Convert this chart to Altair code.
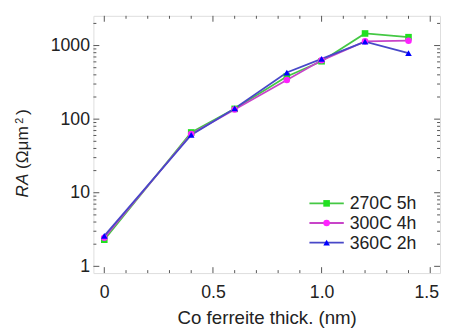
import altair as alt
import pandas as pd

# ---- data ----
thick = [0.0, 0.4, 0.6, 0.84, 1.0, 1.2, 1.4]
ra_270 = [2.3, 66, 138, 380, 612, 1460, 1300]
ra_300 = [2.45, 63, 135, 340, 630, 1140, 1165]
ra_360 = [2.6, 61, 140, 430, 660, 1130, 790]
series = ["270C 5h", "300C 4h", "360C 2h"]
line_colors = ["#44c844", "#c844c8", "#4848c8"]
marker_colors = ["#22e022", "#ff22ff", "#0000ff"]
marker_shapes = ["square", "circle", "triangle-up"]

x_major = [0.0, 0.5, 1.0, 1.5]
x_minor = [0.1, 0.2, 0.3, 0.4, 0.6, 0.7, 0.8, 0.9, 1.1, 1.2, 1.3, 1.4]
y_major = [1, 10, 100, 1000]
y_minor = [2, 3, 4, 5, 6, 7, 8, 9, 20, 30, 40, 50, 60, 70, 80, 90,
           200, 300, 400, 500, 600, 700, 800, 900, 2000]

W, H = 353, 262
FONT = "Liberation Sans"
FRAME = "#555555"

rows = []
for name, vals in zip(series, [ra_270, ra_300, ra_360]):
    for t, v in zip(thick, vals):
        rows.append({"x": t, "y": v, "s": name})
df = pd.DataFrame(rows)

xscale = alt.Scale(domain=[-0.05, 1.545], nice=False, zero=False)
yscale = alt.Scale(type="log", domain=[0.81, 2535], nice=False)

xaxis = alt.Axis(values=x_major, ticks=False, domain=False, grid=False,
                 labelExpr="datum.value == 0 ? '0' : format(datum.value, '.1f')",
                 labelOffset={"condition": {"test": "datum.value == 1.5", "value": -4}, "value": 0},
                 labelFont=FONT, labelFontSize=18, labelColor="#222",
                 labelPadding=11, title="Co ferreite thick. (nm)",
                 titleFont=FONT, titleFontSize=19, titleFontWeight="normal",
                 titleColor="#222", titlePadding=7)
yaxis = alt.Axis(values=y_major, format="d", ticks=False, domain=False, grid=False,
                 labelFont=FONT, labelFontSize=18, labelColor="#222",
                 labelPadding=4, title=None)

color = alt.Color("s:N", scale=alt.Scale(domain=series, range=line_colors), legend=None)

lines = alt.Chart(df).mark_line(strokeWidth=1.8).encode(
    x=alt.X("x:Q", scale=xscale, axis=xaxis),
    y=alt.Y("y:Q", scale=yscale, axis=yaxis),
    color=color,
)

points = alt.Chart(df).mark_point(filled=True, size=45, opacity=1).encode(
    x=alt.X("x:Q", scale=xscale),
    y=alt.Y("y:Q", scale=yscale),
    fill=alt.Fill("s:N", scale=alt.Scale(domain=series, range=marker_colors), legend=None),
    shape=alt.Shape("s:N", scale=alt.Scale(domain=series, range=marker_shapes), legend=None),
)

layers = [lines, points]

# inward ticks on all four sides
def xticks(vals, length):
    d = pd.DataFrame({"x": vals})
    b = alt.Chart(d).mark_rule(color=FRAME, strokeWidth=1).encode(
        x=alt.X("x:Q", scale=xscale), y=alt.value(H), y2=alt.value(H - length))
    t = alt.Chart(d).mark_rule(color=FRAME, strokeWidth=1).encode(
        x=alt.X("x:Q", scale=xscale), y=alt.value(0), y2=alt.value(length))
    return [b, t]

def yticks(vals, length):
    d = pd.DataFrame({"y": vals})
    l = alt.Chart(d).mark_rule(color=FRAME, strokeWidth=1).encode(
        y=alt.Y("y:Q", scale=yscale), x=alt.value(0), x2=alt.value(length))
    r = alt.Chart(d).mark_rule(color=FRAME, strokeWidth=1).encode(
        y=alt.Y("y:Q", scale=yscale), x=alt.value(W), x2=alt.value(W - length))
    return [l, r]

layers += xticks(x_major, 6) + xticks(x_minor, 3) + yticks(y_major, 6) + yticks(y_minor, 3)

# manual legend
for i, name in enumerate(series):
    yy = 191 + 20 * i
    one = pd.DataFrame({"s": [name]})
    layers.append(alt.Chart(one).mark_rule(color=line_colors[i], strokeWidth=1.8).encode(
        x=alt.value(220), x2=alt.value(255), y=alt.value(yy)))
    layers.append(alt.Chart(one).mark_point(filled=True, size=45, opacity=1,
                                            shape=marker_shapes[i], color=marker_colors[i]).encode(
        x=alt.value(237.5), y=alt.value(yy)))
    layers.append(alt.Chart(one).mark_text(align="left", baseline="middle", font=FONT,
                                           fontSize=18, color="#222").encode(
        x=alt.value(261), y=alt.value(yy + 1), text="s:N"))

# y-axis title: italic RA, then (Ωμm²)
tx = -67
title_parts = [
    ("RA", 185, 17.5, "italic", 0),
    ("(Ωμm", 156, 17.5, "normal", 0),
    ("2", 110, 11, "normal", -5),
    (")", 101, 17.5, "normal", 0),
]
for txt, ypos, fs, style, dx in title_parts:
    layers.append(alt.Chart(pd.DataFrame({"t": [txt]})).mark_text(
        angle=270, align="left", baseline="alphabetic", font=FONT, fontSize=fs,
        fontStyle=style, color="#222").encode(
        x=alt.value(tx + dx), y=alt.value(ypos), text="t:N"))

chart = alt.layer(*layers).properties(
    width=W, height=H,
    autosize=alt.AutoSizeParams(type="none"),
    padding={"left": 87, "top": 5, "right": 1, "bottom": 55},
).configure_view(stroke=FRAME, strokeWidth=1.5).configure(background="white")

chart.save("out.html", embed_options={"renderer": "svg", "actions": False})
